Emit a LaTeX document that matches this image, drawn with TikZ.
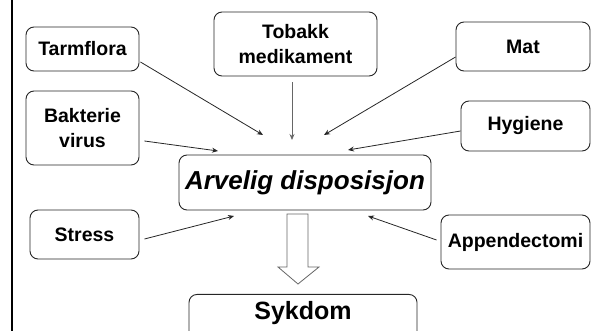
\documentclass[tikz,border=0pt]{standalone}
\usepackage{fontspec}
\setmainfont{Liberation Sans}
\usetikzlibrary{arrows.meta,calc}
\begin{document}
\begin{tikzpicture}[x=1pt,y=-1pt,
  factor/.style={draw=black!85,line width=0.9pt,rounded corners=8pt,fill=white,
    align=center,inner sep=0pt,font=\fontsize{19.5}{25.5}\selectfont\bfseries},
  link/.style={draw=black!85,line width=0.8pt,-{Stealth[length=6pt,width=5pt]}},
]
\useasboundingbox (0,0) rectangle (592,331);
\clip (0,0) rectangle (592,331);
\draw[line width=2pt] (11.5,0) -- (11.5,331);

\node[factor,minimum width=113pt,minimum height=44pt] (tarm) at (82.5,49) {Tarmflora};
\node[factor,minimum width=113pt,minimum height=74pt] (bak) at (82.5,128) {Bakterie\\virus};
\node[factor,minimum width=163pt,minimum height=64pt] (tob) at (295.5,44) {Tobakk\\medikament};
\node[factor,minimum width=134pt,minimum height=49pt] (mat) at (523,46.5) {Mat};
\node[factor,minimum width=129pt,minimum height=50pt] (hyg) at (525.5,126) {Hygiene};
\node[factor,minimum width=252pt,minimum height=55pt,font=\fontsize{26}{30}\selectfont\bfseries\itshape] (arv) at (305,182.5) {Arvelig disposisjon};
\node[factor,minimum width=109pt,minimum height=49pt] (stress) at (84.5,234.5) {Stress};
\node[factor,minimum width=149pt,minimum height=54pt] (app) at (515.5,242) {Appendectomi};
\node[factor,anchor=north,minimum width=228pt,inner ysep=7pt,text height=18pt,text depth=30pt,font=\fontsize{25}{30}\selectfont\bfseries] (syk) at (303,294) {Sykdom};

\coordinate (eTarm) at (263,135);
\coordinate (eBak) at (218,151);
\coordinate (eTob) at (292,140);
\coordinate (eMat) at (324,135);
\coordinate (eHyg) at (348,150);
\coordinate (eStress) at (234,216);
\coordinate (eApp) at (368,216);

\draw[link] ([xshift=1pt,yshift=-13pt]tarm.east) -- (eTarm);
\draw[link] ([xshift=5pt,yshift=-13pt]bak.east) -- (eBak);
\draw[link,draw=black!60] ([xshift=-3.5pt,yshift=-6pt]tob.south) -- (eTob);
\draw[link] ([yshift=-10.5pt]mat.west) -- (eMat);
\draw[link] ([yshift=-5pt]hyg.west) -- (eHyg);
\draw[link] ([xshift=5pt,yshift=-4.5pt]stress.east) -- (eStress);
\draw[link] ([xshift=-4pt,yshift=2pt]app.west) -- (eApp);

\draw[draw=black!60,line width=0.8pt,fill=white,line join=miter]
  (287,214) -- (308,214) -- (308,267) -- (319,267) -- (298,284) -- (278,267) -- (287,267) -- cycle;
\end{tikzpicture}
\end{document}
